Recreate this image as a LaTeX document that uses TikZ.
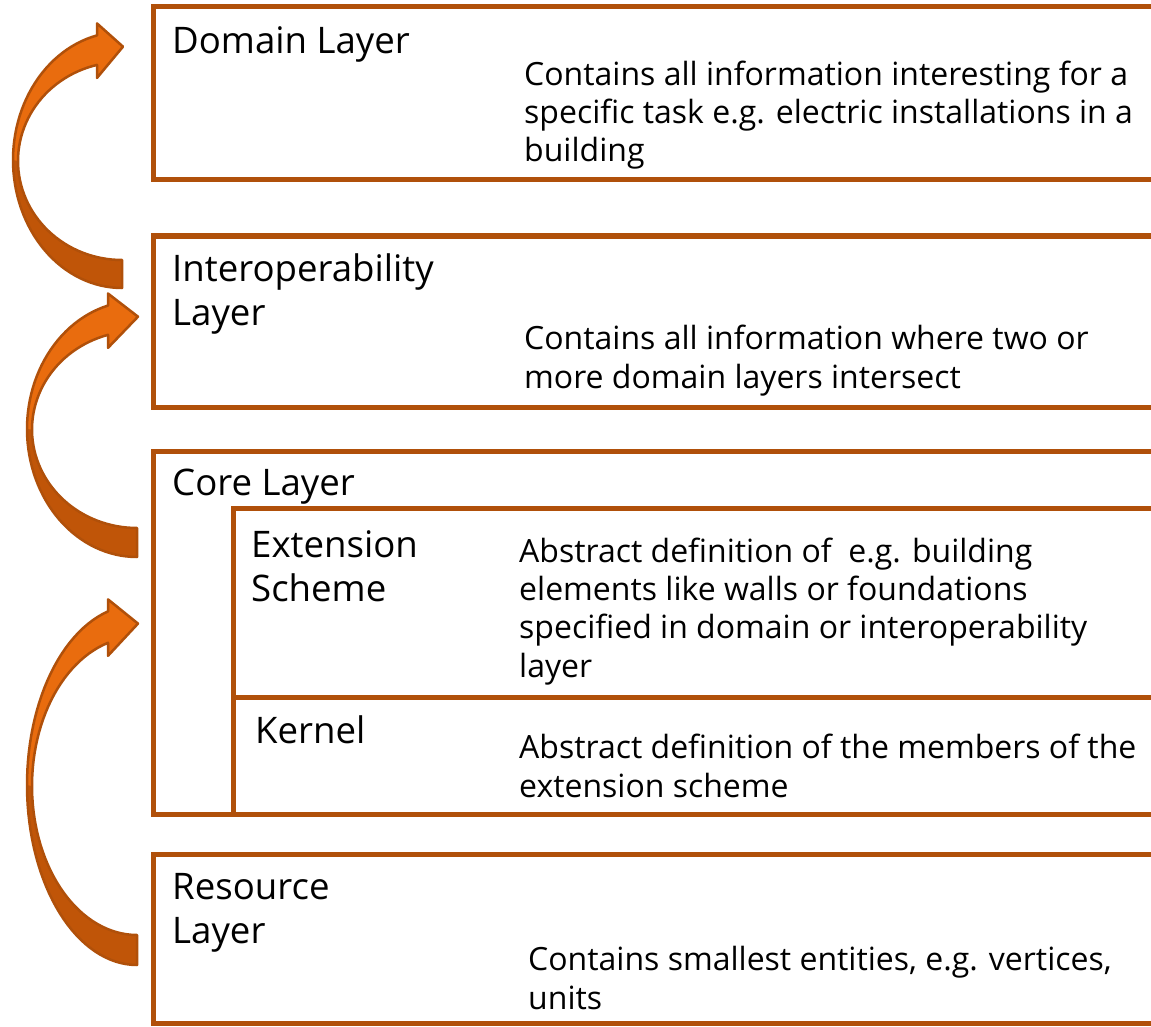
\documentclass[tikz,border=0pt]{standalone}
\usepackage{fontspec}
\setmainfont{Open Sans}
\definecolor{boxc}{RGB}{176,80,10}
\definecolor{arrlight}{RGB}{233,108,14}
\definecolor{arrdark}{RGB}{192,85,8}
\newcommand\curvarrow[8]{%
 \pgfmathsetmacro\tO{270-asin(#8/#3)}%
 \pgfmathsetmacro\tI{270-asin(#8/#6)}%
 \pgfmathsetmacro\yO{#2+#4*sin(\tO)}%
 \pgfmathsetmacro\yI{#5+#7*sin(\tI)}%
 \pgfmathsetmacro\hx{#1-#8}%
 \pgfmathsetmacro\hT{\yO-12}%
 \pgfmathsetmacro\hB{\yI+13}%
 \pgfmathsetmacro\tipy{(\hT+\hB)/2-4}%
 \pgfmathsetmacro\tipx{#1+1}%
 \fill[arrdark] plot[domain=90:\tO,samples=60] ({#1+#3*cos(\x)},{#2+#4*sin(\x)}) -- (\hx,\hT) -- (\tipx,\tipy) -- (\hx,\hB) -- plot[domain=\tI:90,samples=60] ({#1+#6*cos(\x)},{#5+#7*sin(\x)}) -- cycle;
 \fill[arrlight] plot[domain=180:\tO,samples=40] ({#1+#3*cos(\x)},{#2+#4*sin(\x)}) -- (\hx,\hT) -- (\tipx,\tipy) -- (\hx,\hB) -- plot[domain=\tI:180,samples=40] ({#1+#6*cos(\x)},{#5+#7*sin(\x)}) -- cycle;
 \draw[boxc,line width=2.5pt,line join=round] plot[domain=90:\tO,samples=60] ({#1+#3*cos(\x)},{#2+#4*sin(\x)}) -- (\hx,\hT) -- (\tipx,\tipy) -- (\hx,\hB) -- plot[domain=\tI:90,samples=60] ({#1+#6*cos(\x)},{#5+#7*sin(\x)}) -- cycle;
}
\tikzset{
 boxline/.style={draw=boxc,line width=5pt},
 ttl/.style={anchor=base west,inner sep=0pt,align=left,font=\fontsize{36.6}{44}\selectfont},
 desc/.style={anchor=base west,inner sep=0pt,align=left,font=\fontsize{32}{38.2}\selectfont},
}
\begin{document}
\begin{tikzpicture}[x=1pt,y=-1pt]
\useasboundingbox (0,0) rectangle (1151,1027);
\clip (0,0) rectangle (1151,1027);
\fill[white] (0,0) rectangle (1151,1027);
% boxes
\draw[boxline] (153,7) rectangle (1180,180);
\draw[boxline] (153,236) rectangle (1180,407);
\draw[boxline] (153,451) rectangle (1180,814);
\draw[boxline] (233,814) -- (233,508) -- (1180,508);
\draw[boxline] (233,697) -- (1180,697);
\draw[boxline] (153,854) rectangle (1180,1023);
% titles (anchor = baseline of last line)
\node[ttl] (tdom) at (172,54) {Domain Layer};
\node[ttl] (tint) at (172,325) {Interoperability\\Layer};
\node[ttl] (tcore) at (172,495) {Core Layer};
\node[ttl] (text) at (251,601) {Extension\\Scheme};
\node[ttl] (tker) at (255,743) {Kernel};
\node[ttl] (tres) at (172,943) {Resource\\Layer};
% descriptions
\node[desc] (ddom) at (524,162) {Contains all information interesting for a\\specific task e.g. electric installations in a\\building};
\node[desc] (dint) at (524,388) {Contains all information where two or\\more domain layers intersect};
\node[desc] (dext) at (519,677) {Abstract definition of~ e.g. building\\elements like walls or foundations\\specified in domain or interoperability\\layer};
\node[desc] (dker) at (519,797) {Abstract definition of the members of the\\extension scheme};
\node[desc] (dres) at (528,1009) {Contains smallest entities, e.g. vertices,\\units};
% arrows
\curvarrow{122}{160}{109}{128}{161}{104}{99}{25}
\curvarrow{137}{429}{110}{128}{429.5}{105}{98.5}{29}
\curvarrow{137}{785}{110}{180}{786}{105}{149}{29}
\end{tikzpicture}
\end{document}
